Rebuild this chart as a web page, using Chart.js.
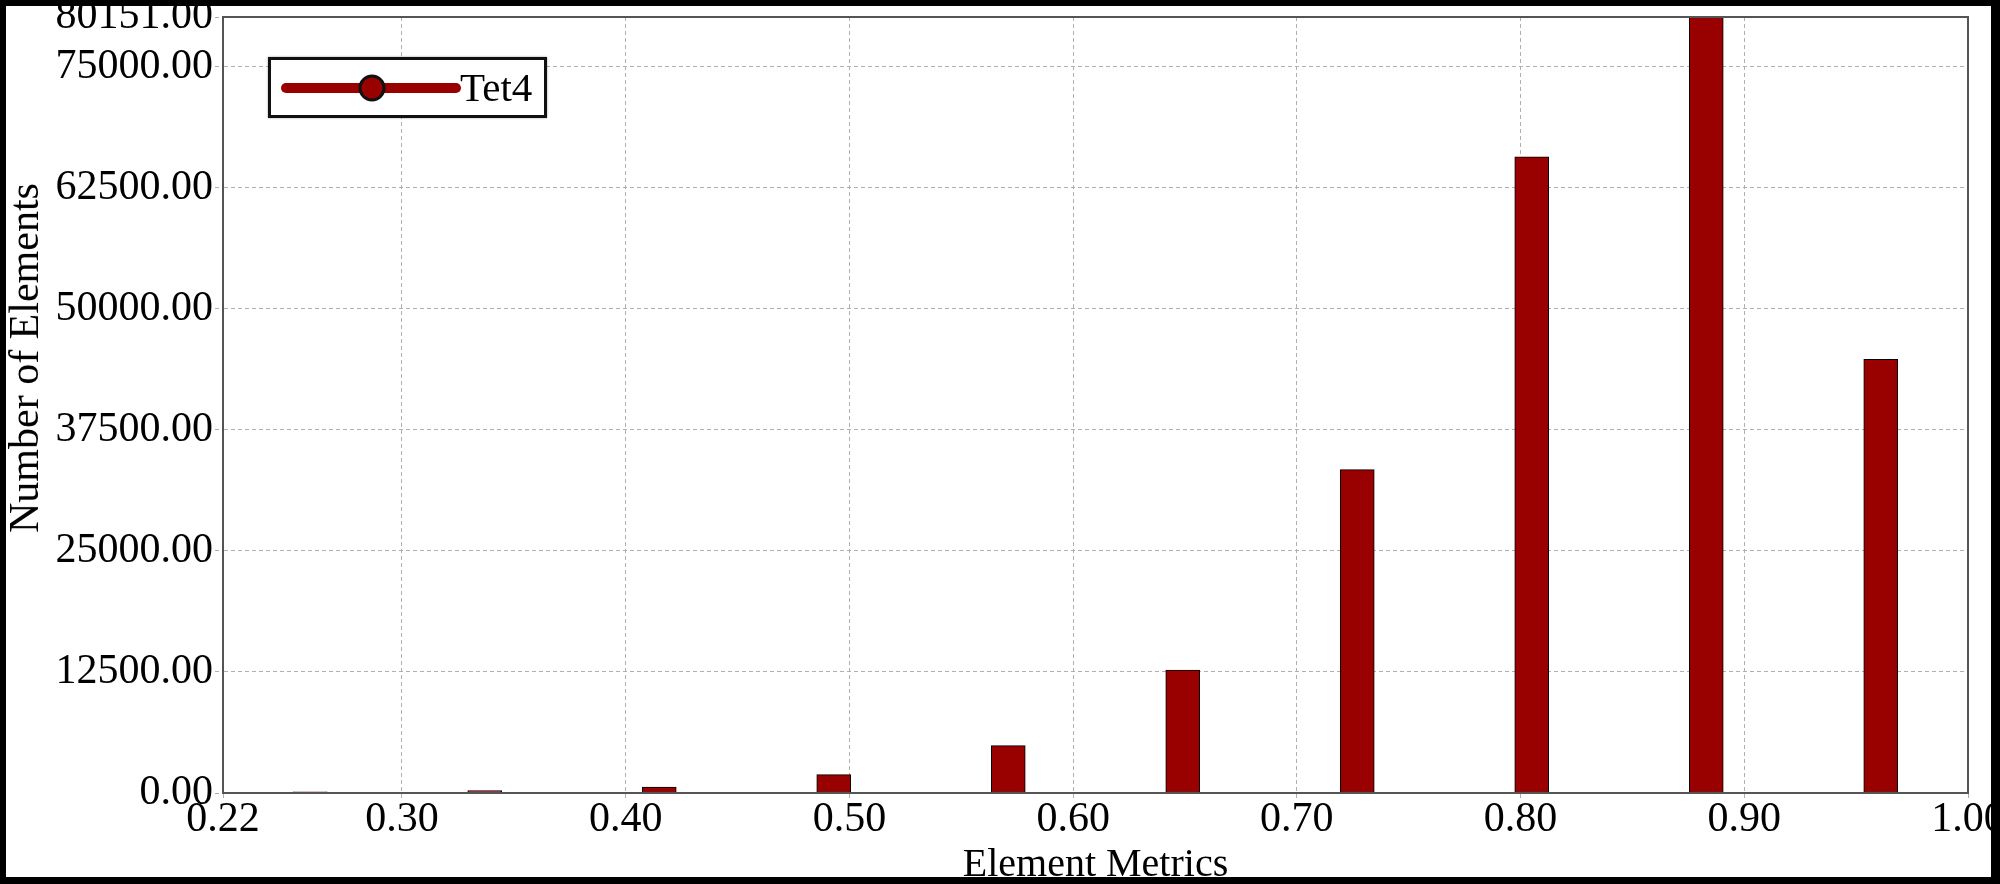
<!DOCTYPE html>
<html>
<head>
<meta charset="utf-8">
<title>Element Metrics - Tet4</title>
<script src="https://cdn.jsdelivr.net/npm/chart.js@4.4.0/dist/chart.umd.min.js"></script>
<style>
    html, body { margin: 0; padding: 0; background: #fff; }
    #wrap { position: relative; width: 2000px; height: 884px; overflow: hidden; background: #fff; }
    #chart { position: absolute; left: 0; top: 0; }
    #frame {
        position: absolute; left: 0; top: 0; width: 2000px; height: 884px;
        box-sizing: border-box; border-style: solid; border-color: #000;
        border-width: 6px 9px 7px 6px; pointer-events: none;
    }
    #y-title {
        position: absolute; left: 24px; top: 358px;
        transform: translate(-50%, -50%) rotate(-90deg);
        font: 42px "Liberation Serif", "Times New Roman", serif;
        color: #000; white-space: nowrap;
    }
    #legend {
        position: absolute; left: 268px; top: 57px; width: 279px; height: 61px;
        box-sizing: border-box; border: 3px solid #111; background: #fff;
        box-shadow: 0 0 2px rgba(0,0,0,0.4);
    }
    #legend canvas { position: absolute; left: 8px; top: 13px; }
    #legend span {
        position: absolute; left: 189px; top: 7px;
        font: 41px/41px "Liberation Serif", "Times New Roman", serif; color: #000;
    }
</style>
</head>
<body>
<div id="wrap">
    <canvas id="chart" width="2000" height="884"></canvas>
    <div id="y-title">Number of Elements</div>
    <div id="legend"><canvas id="legend-swatch" width="184" height="30"></canvas><span id="legend-label"></span></div>
    <div id="frame"></div>
</div>
<script>
// Histogram of element quality metric (Tet4 mesh)

const binCenters = [0.259, 0.337, 0.415, 0.493, 0.571, 0.649, 0.727, 0.805, 0.883, 0.961];
const elementCounts = [120, 240, 600, 1900, 4900, 12700, 33400, 65700, 80151, 44800];
const xTickValues = [0.22, 0.30, 0.40, 0.50, 0.60, 0.70, 0.80, 0.90, 1.00];
const yTickValues = [0, 12500, 25000, 37500, 50000, 62500, 75000, 80151];
const seriesName = 'Tet4';

const barColor = '#990000';
const gridColor = '#b0b0b0';
const axisColor = '#555555';
const serif = '"Liberation Serif", "Times New Roman", serif';

// frame round the plot area (top and right sides have no axis)
const plotFrame = {
    id: 'plotFrame',
    afterDraw(chart) {
        const { ctx, chartArea } = chart;
        ctx.save();
        ctx.strokeStyle = axisColor;
        ctx.lineWidth = 2;
        ctx.strokeRect(chartArea.left, chartArea.top, chartArea.right - chartArea.left, chartArea.bottom - chartArea.top);
        ctx.restore();
    }
};

function drawLegendSwatch() {
    const canvas = document.getElementById('legend-swatch');
    const ctx = canvas.getContext('2d');
    ctx.strokeStyle = barColor;
    ctx.lineWidth = 10;
    ctx.lineCap = 'round';
    ctx.beginPath();
    ctx.moveTo(7, 15);
    ctx.lineTo(177, 15);
    ctx.stroke();
    ctx.beginPath();
    ctx.arc(93, 15, 12, 0, Math.PI * 2);
    ctx.fillStyle = barColor;
    ctx.fill();
    ctx.lineWidth = 3;
    ctx.strokeStyle = '#111';
    ctx.stroke();
    document.getElementById('legend-label').textContent = seriesName;
}

function buildChart() {
    const points = binCenters.map((x, i) => ({ x: x, y: elementCounts[i] }));

    new Chart(document.getElementById('chart'), {
        type: 'bar',
        data: {
            datasets: [{
                label: seriesName,
                data: points,
                backgroundColor: barColor,
                borderColor: '#000',
                borderWidth: 1,
                borderSkipped: false,
                barThickness: 34
            }]
        },
        options: {
            responsive: false,
            animation: false,
            devicePixelRatio: 1,
            layout: { padding: { left: 0, top: 17, right: 32, bottom: 0 } },
            plugins: {
                legend: { display: false },
                tooltip: { enabled: false }
            },
            scales: {
                x: {
                    type: 'linear',
                    min: 0.22,
                    max: 1.00,
                    offset: false,
                    afterBuildTicks: scale => { scale.ticks = xTickValues.map(v => ({ value: v })); },
                    afterFit: scale => {
                        scale.height = 91;
                        scale.paddingLeft = 0;
                        scale.paddingRight = 0;
                    },
                    grid: {
                        offset: false,
                        color: gridColor,
                        lineWidth: 1,
                        tickLength: 8,
                        tickColor: gridColor,
                        tickBorderDash: [4, 3]
                    },
                    border: { display: true, color: axisColor, width: 2, dash: [4, 3] },
                    ticks: {
                        color: '#000',
                        padding: 0,
                        maxRotation: 0,
                        autoSkip: false,
                        font: { family: serif, size: 42, lineHeight: 0.905 },
                        callback: v => Number(v).toFixed(2)
                    },
                    title: {
                        display: true,
                        text: 'Element Metrics',
                        color: '#000',
                        padding: { top: 0, bottom: 0 },
                        font: { family: serif, size: 40, lineHeight: 0.95 }
                    }
                },
                y: {
                    min: 0,
                    max: 80151,
                    afterBuildTicks: scale => { scale.ticks = yTickValues.map(v => ({ value: v })); },
                    afterFit: scale => {
                        scale.width = 223;
                        scale.paddingTop = 0;
                        scale.paddingBottom = 0;
                    },
                    grid: {
                        color: gridColor,
                        lineWidth: 1,
                        tickLength: 8,
                        tickColor: gridColor,
                        tickBorderDash: [4, 3]
                    },
                    border: { display: true, color: axisColor, width: 2, dash: [4, 3] },
                    ticks: {
                        color: '#000',
                        padding: 2,
                        autoSkip: false,
                        font: { family: serif, size: 42 },
                        callback: v => Number(v).toFixed(2)
                    }
                }
            }
        },
        plugins: [plotFrame]
    });
}

document.addEventListener('DOMContentLoaded', function() {
    drawLegendSwatch();
    buildChart();
});
</script>
</body>
</html>
